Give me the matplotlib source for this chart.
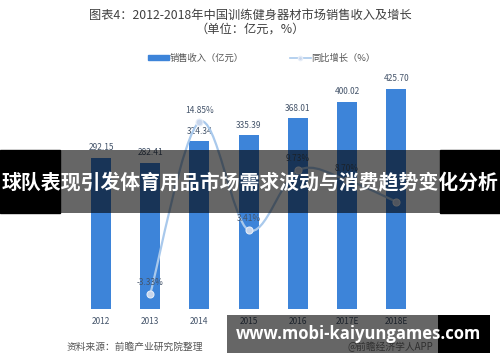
import matplotlib
matplotlib.use("Agg")
import matplotlib.pyplot as plt
import numpy as np
from matplotlib.path import Path
from matplotlib.patches import PathPatch, Rectangle
from matplotlib.lines import Line2D

plt.rcParams['font.family'] = ['Noto Sans CJK SC', 'DejaVu Sans']

years = ["2012", "2013", "2014", "2015", "2016", "2017E", "2018E"]
revenue = [292.15, 282.41, 324.34, 335.39, 368.01, 400.02, 425.70]
growth_years = ["2013", "2014", "2015", "2016", "2017E", "2018E"]
growth = [-3.33, 14.85, 3.41, 9.73, 8.70, 6.42]
growth_labels = ["-3.33%", "14.85%", "3.41%", "9.73%", "8.70%", ""]

title_l1 = "图表4：2012-2018年中国训练健身器材市场销售收入及增长"
title_l2 = "（单位：亿元，%）"
legend_bar = "销售收入（亿元）"
legend_line = "同比增长（%）"
source = "资料来源：前瞻产业研究院整理"
credit = "@前瞻经济学人APP"
banner = "球队表现引发体育用品市场需求波动与消费趋势变化分析"
url = "www.mobi-kaiyungames.com"

W, H = 500, 362
fig = plt.figure(figsize=(5, 3.62), dpi=100)
fig.patch.set_facecolor("white")

def fx(px):
    return px / W

def fy(py):
    return 1 - py / H

ax = fig.add_axes([fx(76.4), fy(309), fx(344.4), (309 - 76) / H])
x = np.arange(len(years))
bar_color = "#3d84d9"
label_color = "#44546a"
ax.bar(x, revenue, width=0.41, color=bar_color, zorder=2)
ax.set_xlim(-0.5, len(years) - 0.5)
ax.set_ylim(0, 450)
for xi, v in zip(x, revenue):
    ax.annotate(f"{v:.2f}", (xi, v), xytext=(0, 4), textcoords="offset points",
                ha="center", va="bottom", fontsize=6, color=label_color)
ax.set_xticks(x)
ax.set_xticklabels(years, fontsize=6, color=label_color)
ax.tick_params(axis="x", length=0, pad=6)
ax.set_yticks([])
for s in ax.spines.values():
    s.set_visible(False)

ax2 = ax.twinx()
ax2.set_ylim(-4.92, 19.71)
ax2.set_yticks([])
for s in ax2.spines.values():
    s.set_visible(False)
gx = np.array([years.index(y) for y in growth_years], dtype=float)
gy = np.array(growth, dtype=float)

# smooth (Catmull-Rom -> cubic Bezier) path through data points
verts = [(gx[0], gy[0])]
codes = [Path.MOVETO]
n = len(gx)
for i in range(n - 1):
    p0 = np.array([gx[max(i - 1, 0)], gy[max(i - 1, 0)]])
    p1 = np.array([gx[i], gy[i]])
    p2 = np.array([gx[i + 1], gy[i + 1]])
    p3 = np.array([gx[min(i + 2, n - 1)], gy[min(i + 2, n - 1)]])
    c1 = p1 + (p2 - p0) / 6
    c2 = p2 - (p3 - p1) / 6
    verts += [tuple(c1), tuple(c2), tuple(p2)]
    codes += [Path.CURVE4] * 3
line_color = "#a9c9ec"
ax2.add_patch(PathPatch(Path(verts, codes), facecolor="none", edgecolor=line_color,
                        lw=1.6, zorder=3, clip_on=False))
ax2.plot(gx, gy, linestyle="none", marker="o", markersize=5, clip_on=False,
         markerfacecolor="#c8d6ec", markeredgecolor="#e6edf8", markeredgewidth=0.8, zorder=4)
for xi, v, t in zip(gx, gy, growth_labels):
    if t:
        ax2.annotate(t, (xi, v), xytext=(0, 5), textcoords="offset points",
                     ha="center", va="bottom", fontsize=6, color=label_color)
ax2.set_ylim(-4.92, 19.71)

# titles
fig.text(0.5, fy(15), title_l1, ha="center", va="center", fontsize=8.8, color="#404040")
fig.text(0.5, fy(29), title_l2, ha="center", va="center", fontsize=8.8, color="#404040")

# legend
handles = [Rectangle((0, 0), 1, 1, color=bar_color),
           Line2D([0], [0], color=line_color, lw=1.2, marker="o", markersize=3,
                  markerfacecolor="#c8d6ec", markeredgecolor="#e6edf8")]
fig.legend(handles, [legend_bar, legend_line], loc="center", bbox_to_anchor=(fx(262), fy(58)),
           ncol=2, frameon=False, fontsize=6.7, labelcolor="#555555",
           handlelength=2.2, handleheight=0.5, handletextpad=0.1, columnspacing=5.0)

# source & credit
fig.text(fx(67), fy(347), source, ha="left", va="center", fontsize=7, color="#555555")
fig.text(fx(348), fy(347), credit, ha="left", va="center", fontsize=7, color="#777777")

# overlay band (middle)
fig.add_artist(Rectangle((0, fy(213)), fx(60), (213 - 150) / H, transform=fig.transFigure,
                         color="black", zorder=10))
fig.add_artist(Rectangle((fx(60), fy(213)), fx(380), (213 - 150) / H, transform=fig.transFigure,
                         color="black", alpha=0.6, lw=0, zorder=10))
fig.add_artist(Rectangle((fx(440), fy(213)), fx(60), (213 - 150) / H, transform=fig.transFigure,
                         color="black", zorder=10))
fig.text(0.5, fy(182), banner, ha="center", va="center", fontsize=14.3, fontweight="bold",
         color="white", zorder=11)

# overlay band (bottom)
fig.add_artist(Rectangle((fx(227), fy(353)), fx(211), (353 - 315) / H, transform=fig.transFigure,
                         color="black", alpha=0.6, lw=0, zorder=10))
fig.add_artist(Rectangle((fx(438), fy(353)), fx(52), (353 - 315) / H, transform=fig.transFigure,
                         color="black", lw=0, zorder=10))
fig.text(fx(358.5), fy(334), url, ha="center", va="center", fontsize=12, fontweight="bold",
         family=["Open Sans", "DejaVu Sans"], color="white", zorder=11)

fig.savefig("out.png", dpi=100, facecolor="white")
